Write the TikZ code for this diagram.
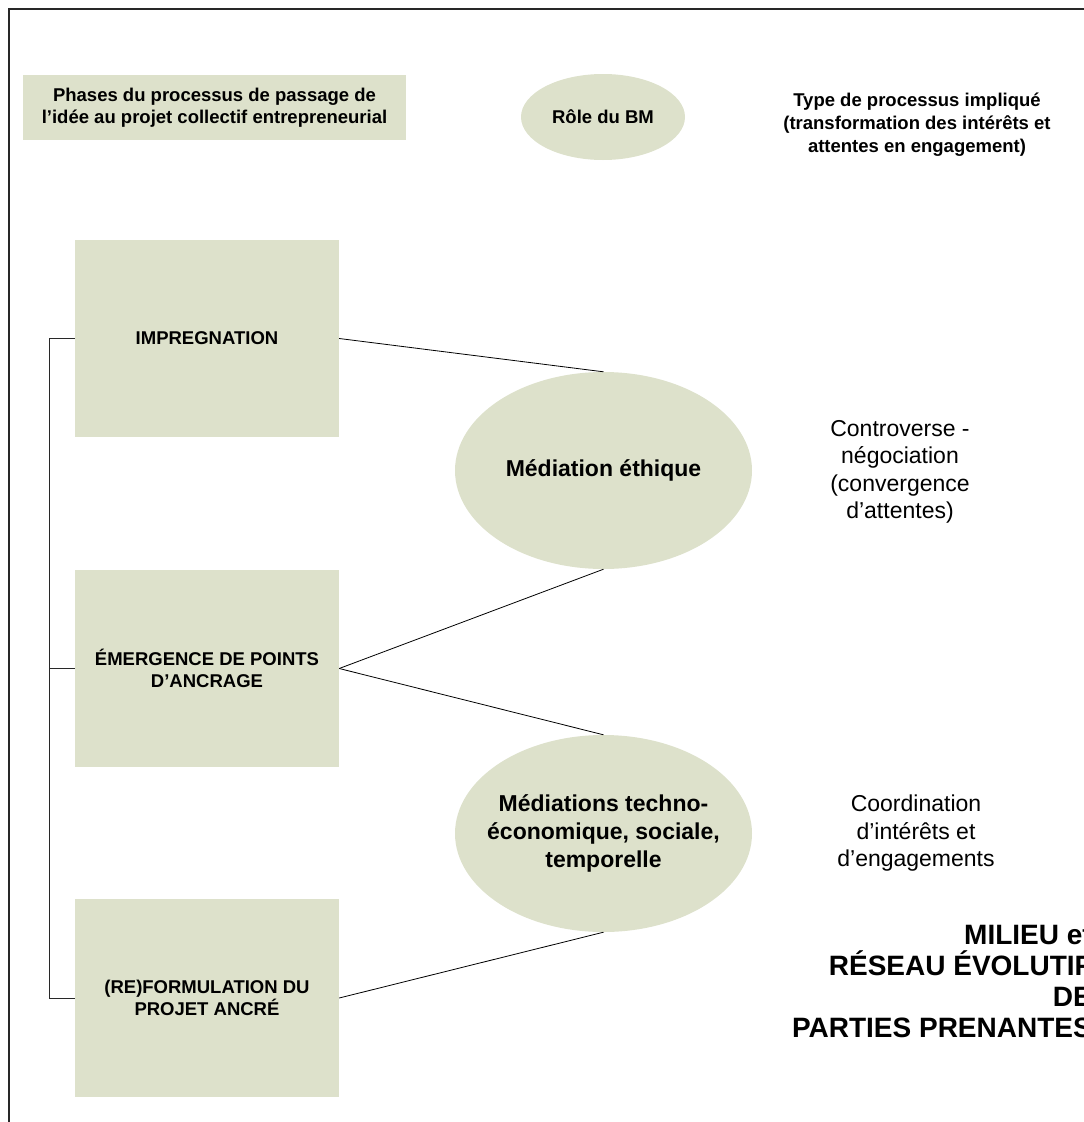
\documentclass[tikz,border=0pt]{standalone}
\usepackage{fontspec}
\setmainfont{Liberation Sans}
\usetikzlibrary{shapes.geometric}
\definecolor{boxfill}{RGB}{221,225,203}
\definecolor{linegray}{RGB}{40,40,40}
\tikzset{
  phasebox/.style={rectangle, fill=boxfill, inner sep=0pt, align=center,
    font=\bfseries\fontsize{18.5}{22}\selectfont},
  rolebox/.style={ellipse, fill=boxfill, inner sep=0pt, align=center},
  plaintxt/.style={align=center, inner sep=0pt, font=\fontsize{23}{27.5}\selectfont},
  conn/.style={draw=black, line width=0.8pt},
  bracket/.style={draw=linegray, line width=0.9pt},
  frameline/.style={draw=linegray, line width=1.3pt}
}
\begin{document}
\begin{tikzpicture}[x=1pt,y=-1pt]
\useasboundingbox (0,0) rectangle (1084,1122);
% frame
\draw[frameline] (9,1130) -- (9,9) -- (1095,9);
% legend row
\node[phasebox, minimum width=383, minimum height=65] (hdr) at (214.5,107.5)
  {Phases du processus de passage de\\l’idée au projet collectif entrepreneurial};
\node[rolebox, minimum width=164, minimum height=86,
  font=\bfseries\fontsize{18.5}{22}\selectfont] (role) at (603,117) {Rôle du BM};
\node[align=center, inner sep=0pt, font=\bfseries\fontsize{18.5}{23}\selectfont] (type) at (917,125)
  {Type de processus impliqué\\(transformation des intérêts et\\attentes en engagement)};
% phases
\node[phasebox, minimum width=264, minimum height=197] (imp) at (207,338.5) {IMPREGNATION};
\node[phasebox, minimum width=264, minimum height=197] (eme) at (207,668.5) {ÉMERGENCE DE POINTS\\D’ANCRAGE};
\node[phasebox, minimum width=264, minimum height=198] (ref) at (207,998) {(RE)FORMULATION DU\\PROJET ANCRÉ};
% mediations
\node[rolebox, minimum width=297, minimum height=197,
  font=\bfseries\fontsize{23}{28}\selectfont] (med1) at (603.5,470.5) {Médiation éthique};
\node[rolebox, minimum width=297, minimum height=197, inner xsep=-40pt,
  font=\bfseries\fontsize{23}{28}\selectfont] (med2) at (603.5,833.5)
  {Médiations techno-\\économique, sociale,\\temporelle};
% process types
\node[plaintxt] (contro) at (900,472) {Controverse -\\négociation\\(convergence\\d’attentes)};
\node[plaintxt] (coord) at (916,833.5) {Coordination\\d’intérêts et\\d’engagements};
% milieu
\node[align=right, inner sep=0pt, anchor=east, font=\bfseries\fontsize{28}{31}\selectfont] (milieu) at (1092,981.5)
  {MILIEU et\\RÉSEAU ÉVOLUTIF\\DE\\PARTIES PRENANTES};
% connectors
\draw[conn] (imp.east) -- (med1.north);
\draw[conn] (eme.east) -- (med1.south);
\draw[conn] (eme.east) -- (med2.north);
\draw[conn] (ref.east) -- (med2.south);
% bracket
\draw[bracket] (imp.west) -- ++(-25,0) coordinate (bt) |- (ref.west);
\draw[bracket] (eme.west) -- (eme.west -| bt);
\end{tikzpicture}
\end{document}
